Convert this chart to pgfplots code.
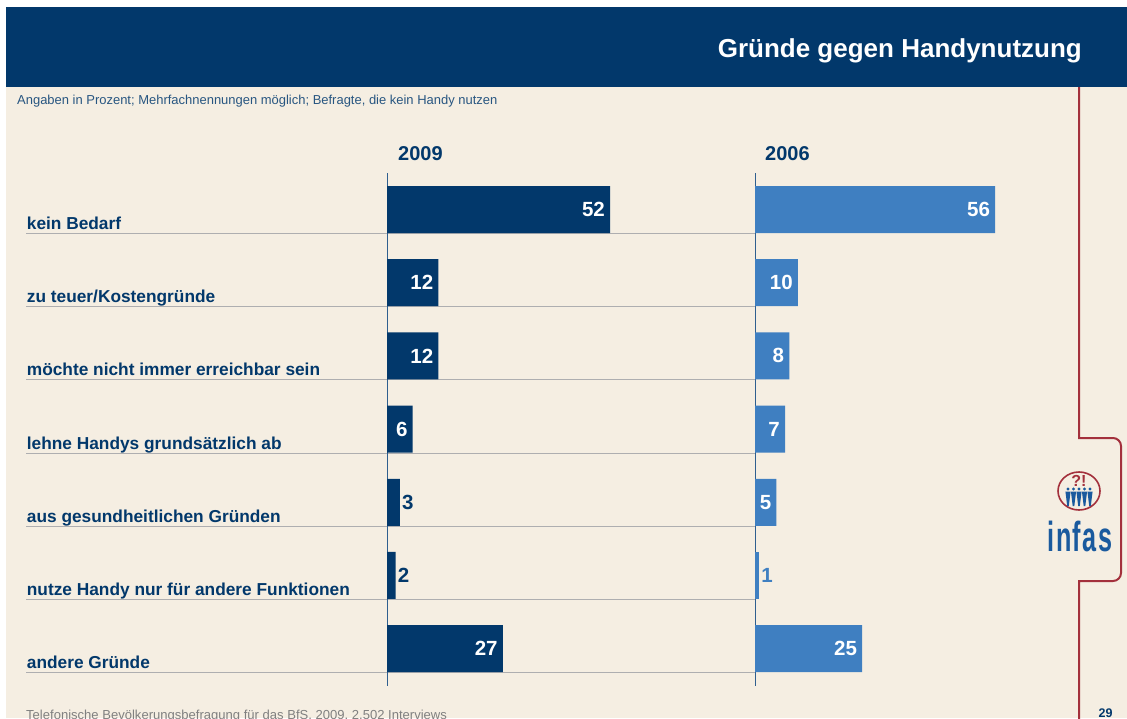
\documentclass[border=0pt]{standalone}
\usepackage{fontspec}
\setmainfont{Liberation Sans}
\usepackage{pgfplots}
\pgfplotsset{compat=1.18}
\definecolor{navy}{HTML}{02386B}
\definecolor{lblue}{HTML}{3F7FC1}
\definecolor{beige}{HTML}{F5EEE2}
\definecolor{gridg}{HTML}{AEAEB0}
\definecolor{brk}{HTML}{A3303C}
\definecolor{logob}{HTML}{1A5A9E}
\definecolor{axl}{HTML}{2F5F8F}
\newcommand{\fs}[1]{\fontsize{#1}{#1}\selectfont}
\pgfplotsset{
  base/.style={
    scale only axis, height=513pt,
    ymin=-0.4986, ymax=6.51, y dir=reverse,
    axis line style={draw=none}, xtick=\empty,
    major tick length=0pt,
    /pgf/number format/assume math mode=true,
    clip=false,
  },
  bars/.style={xbar, bar shift=0pt, bar width=47pt, draw=none, fill=#1},
  inlab/.style={point meta=x, nodes near coords,
    nodes near coords align={anchor=east},
    nodes near coords style={text=white, font=\fs{20.5}\bfseries, inner sep=5pt}},
  outlab/.style={point meta=x, nodes near coords,
    nodes near coords align={anchor=west},
    nodes near coords style={text=#1, font=\fs{20.5}\bfseries, inner sep=2pt}},
}
\begin{document}
\begin{tikzpicture}
\path[use as bounding box] (0pt,0pt) rectangle (1127pt,-718pt);
\clip (0pt,0pt) rectangle (1127pt,-718pt);
\fill[white] (0pt,0pt) rectangle (1127pt,-718pt);
\fill[beige] (6pt,-87pt) rectangle (1127pt,-718pt);
\fill[navy] (6pt,-7pt) rectangle (1127pt,-87pt);
\node[anchor=base east, inner sep=0pt, text=white, font=\fs{26}\bfseries] at (1082pt,-57pt) {Gründe gegen Handynutzung};
\node[anchor=base west, inner sep=0pt, text=navy!85!white, font=\fs{12.97}] at (17pt,-104pt) {Angaben in Prozent; Mehrfachnennungen möglich; Befragte, die kein Handy nutzen};
\node[anchor=base west, inner sep=0pt, text=navy, font=\fs{20}\bfseries] at (398pt,-160pt) {2009};
\node[anchor=base west, inner sep=0pt, text=navy, font=\fs{20}\bfseries] at (765pt,-160pt) {2006};
\node[anchor=base west, inner sep=0pt, text=black!50, font=\fs{13.05}] at (26pt,-719.5pt) {Telefonische Bevölkerungsbefragung für das BfS, 2009, 2.502 Interviews};
\node[anchor=base, inner sep=0pt, text=navy, font=\fs{12.5}\bfseries] at (1105.5pt,-717.5pt) {29};

% bracket
\draw[brk, line width=2pt] (1079pt,-87pt) -- (1079pt,-438pt) -- (1113pt,-438pt) arc[start angle=90, end angle=0, radius=8pt] -- (1121pt,-573pt) arc[start angle=0, end angle=-90, radius=8pt] -- (1079pt,-581pt) -- (1079pt,-725pt);
% logo
\draw[brk, line width=1.6pt] (1079pt,-491pt) ellipse (21pt and 19pt);
\node[inner sep=0pt, text=brk, font=\fs{16}\bfseries] at (1079pt,-481pt) {?!};
\foreach \px in {1068,1073.5,1079,1084.5,1090}{
  \fill[logob] (\px pt,-489pt) circle (1.7pt);
  \fill[logob] (\px pt-2.6pt,-491.5pt) -- (\px pt+2.6pt,-491.5pt) -- (\px pt+0.8pt,-506pt) -- (\px pt-0.8pt,-506pt) -- cycle;
}
\node[anchor=base, inner sep=0pt, text=logob] at (1080pt,-551pt) {\scalebox{0.6}[1.0]{\fs{42}\bfseries\addfontfeature{LetterSpace=6}infas}};

\begin{axis}[base, at={(26pt,-686pt)}, anchor=south west, width=729pt,
  xmin=-84.15, xmax=85.78,
  ymajorgrids, grid style={gridg, line width=0.9pt},
  ytick={0.328,1.328,2.328,3.328,4.328,5.328,6.328},
  yticklabels={kein Bedarf,zu teuer/Kostengründe,möchte nicht immer erreichbar sein,lehne Handys grundsätzlich ab,aus gesundheitlichen Gründen,nutze Handy nur für andere Funktionen,andere Gründe},
  y tick label style={anchor=base west, inner sep=0pt, text=navy, font=\fs{17.3}\bfseries, yshift=4pt, xshift=0.7pt},
]
\addplot[axl, line width=1pt] coordinates {(0,-0.4986) (0,6.51)};
\addplot[bars=navy, inlab] coordinates {(52,0) (12,1) (12,2) (6,3) (27,6)};
\addplot[bars=navy, outlab=navy] coordinates {(3,4) (2,5)};
\end{axis}

\begin{axis}[base, at={(755pt,-686pt)}, anchor=south west, width=320pt,
  xmin=0, xmax=74.6, ytick=\empty,
]
\addplot[axl, line width=1pt] coordinates {(0,-0.4986) (0,6.51)};
\addplot[bars=lblue, inlab] coordinates {(56,0) (10,1) (8,2) (7,3) (5,4) (25,6)};
\addplot[bars=lblue, outlab=lblue] coordinates {(1,5)};
\end{axis}
\end{tikzpicture}
\end{document}
